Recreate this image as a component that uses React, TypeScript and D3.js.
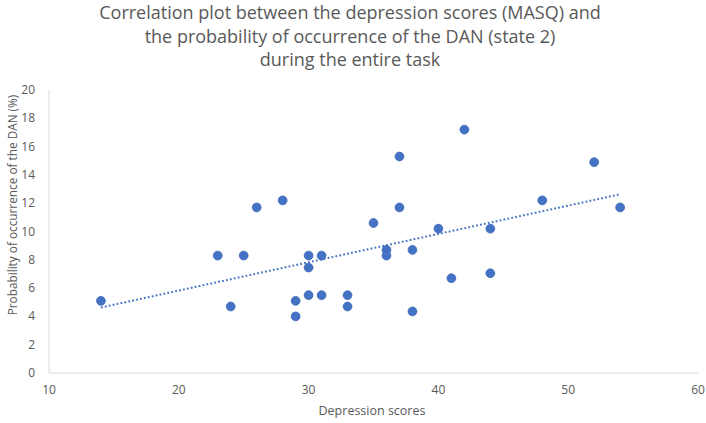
import React, { useEffect, useRef } from 'react';
import * as d3 from 'd3';

// depression score (MASQ) per participant
const depressionScores = [
  14, 24, 29, 29, 30, 31, 33, 33,
  23, 25, 26, 28, 30, 31, 30,
  42, 37, 52, 37, 48, 54, 35, 40, 44, 36, 36, 38, 41, 44,
  38,
];

// probability of occurrence of the DAN, state 2 (%)
const danProbability = [
  5.1, 4.7, 5.1, 4.0, 5.5, 5.5, 5.5, 4.7,
  8.3, 8.3, 11.7, 12.2, 8.3, 8.3, 7.45,
  17.2, 15.3, 14.9, 11.7, 12.2, 11.7, 10.6, 10.2, 10.2, 8.7, 8.3, 8.7, 6.7, 7.05,
  4.35,
];

const xTicks = [10, 20, 30, 40, 50, 60];
const yTicks = [0, 2, 4, 6, 8, 10, 12, 14, 16, 18, 20];

const titleLines = [
  'Correlation plot between the depression scores (MASQ) and',
  'the probability of occurrence of the DAN (state 2)',
  'during the entire task',
];

const App: React.FC = () => {
  const svgRef = useRef<SVGSVGElement>(null);
  const width = 706;
  const height = 423;

  useEffect(() => {
    if (!svgRef.current) return;
    const svg = d3.select(svgRef.current);
    svg.selectAll('*').remove();

    const font = 'Open Sans, sans-serif';
    const textColor = '#595959';

    const x = d3.scaleLinear().domain([10, 60]).range([49, 698]);
    const y = d3.scaleLinear().domain([0, 20]).range([373, 90]);

    const points = depressionScores.map((s, i) => ({ x: s, y: danProbability[i] }));

    // Title
    svg.append('g')
      .selectAll('text')
      .data(titleLines)
      .enter().append('text')
      .attr('x', 350)
      .attr('y', (_, i) => 19 + i * 23.5)
      .attr('text-anchor', 'middle')
      .style('font-family', font)
      .style('font-size', '18px')
      .style('fill', textColor)
      .text(d => d);

    // Axis lines
    svg.append('line')
      .attr('x1', x(10)).attr('x2', x(10))
      .attr('y1', y(20)).attr('y2', y(0))
      .attr('stroke', '#d9d9d9').attr('stroke-width', 1);
    svg.append('line')
      .attr('x1', x(10)).attr('x2', x(60))
      .attr('y1', y(0)).attr('y2', y(0))
      .attr('stroke', '#d9d9d9').attr('stroke-width', 1);

    // Tick labels
    svg.append('g')
      .selectAll('text')
      .data(xTicks)
      .enter().append('text')
      .attr('x', d => x(d))
      .attr('y', 394)
      .attr('text-anchor', 'middle')
      .style('font-family', font)
      .style('font-size', '12px')
      .style('fill', textColor)
      .text(d => d);

    svg.append('g')
      .selectAll('text')
      .data(yTicks)
      .enter().append('text')
      .attr('x', 35)
      .attr('y', d => y(d) + 4)
      .attr('text-anchor', 'end')
      .style('font-family', font)
      .style('font-size', '12px')
      .style('fill', textColor)
      .text(d => d);

    // Axis titles
    svg.append('text')
      .attr('x', 372)
      .attr('y', 415)
      .attr('text-anchor', 'middle')
      .style('font-family', font)
      .style('font-size', '12.5px')
      .style('fill', textColor)
      .text('Depression scores');

    svg.append('text')
      .attr('transform', 'translate(17,205) rotate(-90)')
      .attr('text-anchor', 'middle')
      .style('font-family', font)
      .style('font-size', '11.8px')
      .style('fill', textColor)
      .text('Probability of occurrence of the DAN (%)');

    // Linear trendline (least squares)
    const mx = d3.mean(points, d => d.x) || 0;
    const my = d3.mean(points, d => d.y) || 0;
    const sxy = d3.sum(points, d => (d.x - mx) * (d.y - my));
    const sxx = d3.sum(points, d => (d.x - mx) ** 2);
    const slope = sxy / sxx;
    const intercept = my - slope * mx;
    const [xmin, xmax] = d3.extent(points, d => d.x) as [number, number];

    svg.append('line')
      .attr('x1', x(xmin)).attr('y1', y(intercept + slope * xmin))
      .attr('x2', x(xmax)).attr('y2', y(intercept + slope * xmax))
      .attr('stroke', '#4472C4')
      .attr('stroke-width', 2)
      .attr('stroke-dasharray', '1.8,2.2');

    // Points
    svg.append('g')
      .selectAll('circle')
      .data(points)
      .enter().append('circle')
      .attr('cx', d => x(d.x))
      .attr('cy', d => y(d.y))
      .attr('r', 4.4)
      .attr('fill', '#4472C4')
      .attr('stroke', '#3b66b5')
      .attr('stroke-width', 0.8);
  }, []);

  return (
    <svg
      ref={svgRef}
      width={width}
      height={height}
      style={{ position: 'absolute', left: 0, top: 0, background: 'white' }}
    />
  );
};

export default App;
